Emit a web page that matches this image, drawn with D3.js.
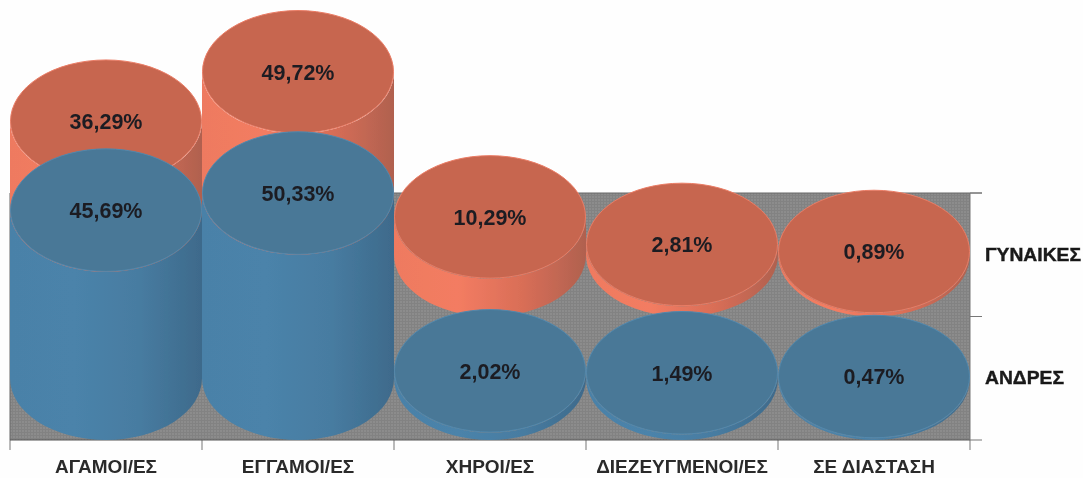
<!DOCTYPE html>
<html><head><meta charset="utf-8">
<script src="https://cdn.jsdelivr.net/npm/d3@7/dist/d3.min.js"></script>
<style>html,body{margin:0;padding:0;background:#fefefe;overflow:hidden}svg{display:block}text{font-family:"Liberation Sans",Arial,sans-serif}</style>
</head><body><div id="c"></div>
<script>
const categories = ["ΑΓΑΜΟΙ/ΕΣ","ΕΓΓΑΜΟΙ/ΕΣ","ΧΗΡΟΙ/ΕΣ","ΔΙΕΖΕΥΓΜΕΝΟΙ/ΕΣ","ΣΕ ΔΙΑΣΤΑΣΗ"];
const seriesNames = ["ΓΥΝΑΙΚΕΣ","ΑΝΔΡΕΣ"];
const women = [36.29,49.72,10.29,2.81,0.89];
const men = [45.69,50.33,2.02,1.49,0.47];
const seriesValues = [women, men];

const W=1083,H=478;
const svg=d3.select("#c").append("svg").attr("width",W).attr("height",H);
const defs=svg.append("defs");
const floorPat=defs.append("pattern").attr("id","floor").attr("width",3).attr("height",3).attr("patternUnits","userSpaceOnUse");
floorPat.append("rect").attr("width",3).attr("height",3).attr("fill","#8c8c8c");
floorPat.append("path").attr("d","M0 .5H3M.5 0V3").attr("stroke","#828282").attr("stroke-width",1).attr("fill","none");
const colours=[
 {top:"#c7664f",edge:"#ea7c65",stops:["#ee7a60","#f37c62","#d96e57","#b0614f"]},
 {top:"#487897",edge:"#5288ad",stops:["#4a81a8","#4b83aa","#477ca1","#3e6a8b"]}];
colours.forEach((c,i)=>{
 const g=defs.append("linearGradient").attr("id","side"+i);
 c.stops.forEach((s,j)=>g.append("stop").attr("offset",j/(c.stops.length-1)).attr("stop-color",s));
});
defs.append("filter").attr("id","soft").append("feGaussianBlur").attr("stdDeviation",0.5);

const x=d3.scaleBand().domain(categories).range([10,970]);
const depth=d3.scaleBand().domain(seriesNames).range([193,440]);
const h=d3.scaleLinear().domain([0,100]).range([0,368]);
const rx=x.bandwidth()/2, ry=depth.bandwidth()/2;

const root=svg.append("g").attr("filter","url(#soft)");
root.append("rect").attr("x",x.range()[0]).attr("y",depth.range()[0]).attr("width",x.range()[1]-x.range()[0]).attr("height",depth.range()[1]-depth.range()[0]).attr("fill","url(#floor)");
root.append("path").attr("d",`M10 193H982M10 193V440`).attr("stroke","#666").attr("fill","none");

const xEdges=categories.map(c=>x(c)).concat(x.range()[1]);
const zEdges=seriesNames.map(s=>depth(s)).concat(depth.range()[1]);
root.append("g").selectAll("line").data(xEdges).join("line").attr("x1",d=>d).attr("x2",d=>d).attr("y1",440).attr("y2",450).attr("stroke","#777");
root.append("g").selectAll("line").data(zEdges).join("line").attr("x1",970).attr("x2",982).attr("y1",d=>d).attr("y2",d=>d).attr("stroke","#777");
root.append("line").attr("x1",10).attr("x2",970).attr("y1",440).attr("y2",440).attr("stroke","#555");
root.append("line").attr("x1",970).attr("x2",970).attr("y1",193).attr("y2",440).attr("stroke","#777");

seriesNames.forEach((name,si)=>{
 const cy=depth(name)+ry;
 const g=root.append("g");
 const items=categories.map((c,i)=>({c,v:seriesValues[si][i]}));
 const cyl=g.selectAll("g").data(items).join("g");
 const cx=d=>x(d.c)+rx;
 cyl.append("path").attr("fill",`url(#side${si})`).attr("d",d=>{
   const t=cy-h(d.v);
   return `M${cx(d)-rx} ${t}V${cy}A${rx} ${ry} 0 0 0 ${cx(d)+rx} ${cy}V${t}A${rx} ${ry} 0 0 1 ${cx(d)-rx} ${t}Z`;
 });
 cyl.append("ellipse").attr("cx",cx).attr("cy",d=>cy-h(d.v)).attr("rx",rx-.5).attr("ry",ry-.5).attr("fill",colours[si].top).attr("stroke",colours[si].edge).attr("stroke-width",1);
 cyl.append("text").attr("x",cx).attr("y",d=>cy-h(d.v)).attr("dy","0.36em").attr("text-anchor","middle")
  .attr("font-size",21.5).attr("font-weight",700).attr("fill","#1c1c22").text(d=>d.v.toFixed(2).replace(".",",")+"%");
});

const xAxis=root.append("g").attr("transform","translate(0,440)").call(d3.axisBottom(x).tickSize(0).tickPadding(20));
xAxis.select(".domain").remove();
xAxis.selectAll("text").attr("font-size",19).attr("font-weight",700).attr("fill","#2a2a2a").attr("font-family",'"Liberation Sans",Arial,sans-serif');
const zAxis=root.append("g").attr("transform","translate(985,0)").call(d3.axisRight(depth).tickSize(0).tickPadding(0));
zAxis.select(".domain").remove();
zAxis.selectAll("text").attr("font-size",18).attr("font-weight",700).attr("fill","#1a1a1a").attr("stroke","#1a1a1a").attr("stroke-width",0.4).attr("font-family",'"Liberation Sans",Arial,sans-serif').attr("textLength",function(d){return d==="ΓΥΝΑΙΚΕΣ"?96:79;}).attr("lengthAdjust","spacingAndGlyphs");
</script></body></html>
